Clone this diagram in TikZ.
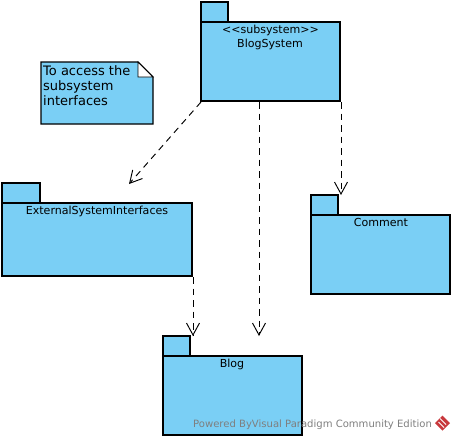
\documentclass[tikz,border=0pt]{standalone}
\usepackage{fontspec}
\setmainfont{DejaVu Sans}
\usetikzlibrary{arrows.meta}
\definecolor{pkgblue}{HTML}{7ACFF5}
\definecolor{wmgray}{HTML}{7F7F7F}
\definecolor{wmred}{HTML}{C8383C}
\tikzset{
  x=1pt,y=-1pt,
  pkgbox/.style={draw=black,fill=pkgblue,line width=1.1pt,anchor=north west,inner sep=0pt,outer sep=0pt},
  pkgtext/.style={font=\fontsize{11.05}{13}\selectfont,text=black,inner sep=0pt,anchor=base},
  dep/.style={draw=black,line width=0.95pt,dash pattern=on 6.5pt off 5pt,-{Straight Barb[length=12pt,width=13pt,line width=0.95pt]}},
}
\begin{document}
\begin{tikzpicture}
\useasboundingbox (0,0) rectangle (455,440);
% BlogSystem
\node[pkgbox,minimum width=27pt,minimum height=20pt] (bstab) at (201,2) {};
\node[pkgbox,minimum width=139pt,minimum height=79pt] (bs) at (201,22) {};
\node[pkgtext] (bslabela) at (270.5,33.5) {{<}{<}subsystem{>}{>}};
\node[pkgtext] (bslabelb) at (270,47) {BlogSystem};
% Note
\draw[fill=pkgblue,draw=black,line width=1.1pt] (41,62) -- (138,62) -- (153,77) -- (153,124) -- (41,124) -- cycle;
\draw[fill=white,draw=black,line width=0.9pt] (138,62) -- (138,77) -- (153,77) -- cycle;
\node[font=\fontsize{13}{15}\selectfont,align=left,anchor=north west,inner sep=0pt] (note) at (43,65) {To access the\\subsystem\\interfaces};
% External
\node[pkgbox,minimum width=38pt,minimum height=20pt] (extab) at (2,183) {};
\node[pkgbox,minimum width=190pt,minimum height=73pt] (ex) at (2,203) {};
\node[pkgtext] (exlabel) at (97,214) {ExternalSystemInterfaces};
% Comment
\node[pkgbox,minimum width=27pt,minimum height=20pt] (cotab) at (311,195) {};
\node[pkgbox,minimum width=139pt,minimum height=79pt] (co) at (311,215) {};
\node[pkgtext] (colabel) at (381,226) {Comment};
% Blog
\node[pkgbox,minimum width=27pt,minimum height=20pt] (bltab) at (163,336) {};
\node[pkgbox,minimum width=139pt,minimum height=79pt] (bl) at (163,356) {};
\node[pkgtext] (bllabel) at (232,367) {Blog};
% Connector ends
\coordinate (a1) at (201,102);
\coordinate (a2) at (129,184);
\coordinate (b1) at (259,102);
\coordinate (b2) at (259,336);
\coordinate (c1) at (341,102);
\coordinate (c2) at (341,195);
\coordinate (d1) at (193,277);
\coordinate (d2) at (193,336);
\draw[dep] (a1) -- (a2);
\draw[dep] (b1) -- (b2);
\draw[dep] (c1) -- (c2);
\draw[dep] (d1) -- (d2);
% Watermark
\node[font=\fontsize{10.05}{12}\selectfont,text=wmgray,anchor=base west,inner sep=0pt] (wm) at (193,427) {Powered ByVisual Paradigm Community Edition};
\fill[wmred] (442.5,415.5) -- (450,423) -- (442.5,430.5) -- (435,423) -- cycle;
\draw[white,line width=0.9pt] (440,418.5) -- (446,424.5) (438.5,422) -- (444,427.5);
\end{tikzpicture}
\end{document}
